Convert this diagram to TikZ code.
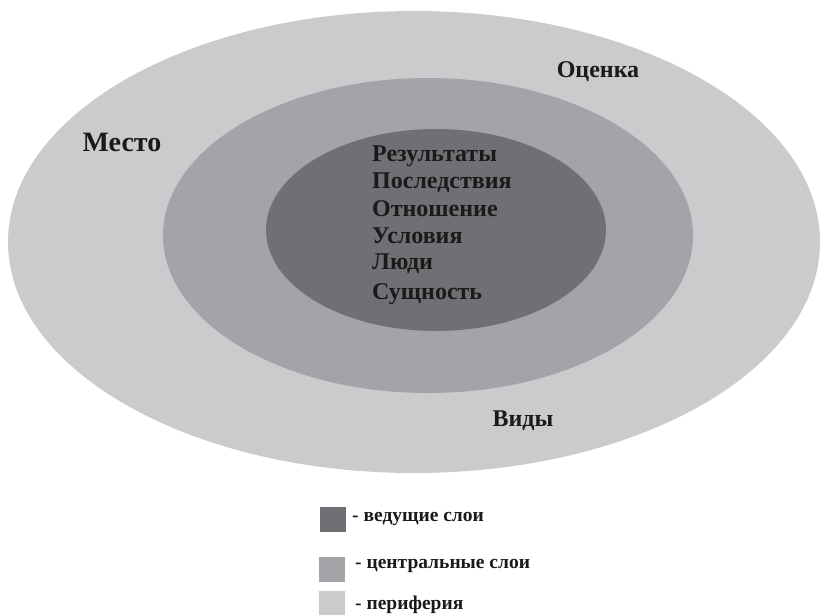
\documentclass[tikz,border=0pt]{standalone}
\usepackage{fontspec}
\setmainfont{Liberation Serif}
\definecolor{outerc}{HTML}{CACBCD}
\definecolor{midc}{HTML}{A3A4A8}
\definecolor{innerc}{HTML}{6F7074}
\definecolor{txtc}{HTML}{1A1A1A}
\begin{document}
\begin{tikzpicture}[x=1pt,y=-1pt,
  lbl/.style={font=\bfseries\fontsize{24}{28}\selectfont, text=txtc, inner sep=0pt},
  inlbl/.style={font=\bfseries\fontsize{24}{28}\selectfont, text=txtc, inner sep=0pt, anchor=west},
  legtxt/.style={font=\bfseries\fontsize{19.5}{22}\selectfont, text=txtc, inner sep=0pt, anchor=west},
  legbox/.style={draw=none, inner sep=0pt, minimum width=26pt, minimum height=25pt}]
\useasboundingbox (0,0) rectangle (823,614);
\fill[white] (0,0) rectangle (823,614);
\fill[outerc] (414,242) ellipse [x radius=406, y radius=231];
\fill[midc] (428,235.5) ellipse [x radius=265, y radius=157.5];
\fill[innerc] (436,230) ellipse [x radius=170, y radius=101];
\node[lbl] (otsenka) at (598,72) {Оценка};
\node[lbl, font=\bfseries\fontsize{28}{32}\selectfont] (mesto) at (122,142) {Место};
\node[lbl] (vidy) at (523,421) {Виды};
\node[inlbl] (r1) at (372,156) {Результаты};
\node[inlbl] (r2) at (372,183) {Последствия};
\node[inlbl] (r3) at (372,209) {Отношение};
\node[inlbl] (r4) at (372,236) {Условия};
\node[inlbl] (r5) at (372,264) {Люди};
\node[inlbl] (r6) at (372,294) {Сущность};
\node[legbox, fill=innerc] (k1) at (333,519.5) {};
\node[legbox, fill=midc] (k2) at (331.5,569) {};
\node[legbox, fill=outerc] (k3) at (331.5,603.5) {};
\node[legtxt] (t1) at (352,519) {- ведущие слои};
\node[legtxt] (t2) at (355,566) {- центральные слои};
\node[legtxt] (t3) at (355,605) {- периферия};
\end{tikzpicture}
\end{document}
